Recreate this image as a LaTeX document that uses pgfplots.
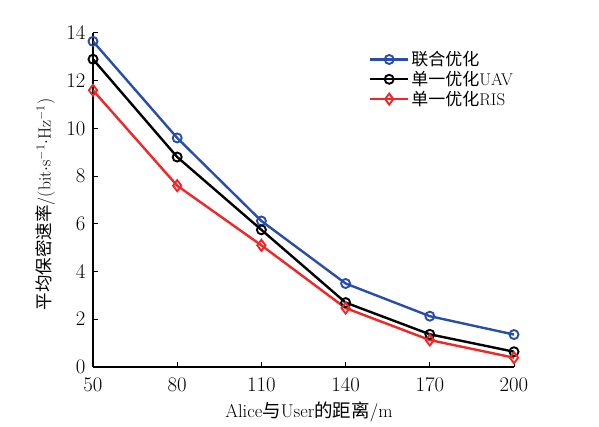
\documentclass[border=0pt]{standalone}
\usepackage{fontspec}
\usepackage{pgfplots}
\pgfplotsset{compat=1.18}
\newfontfamily\cjk{Noto Sans CJK SC}
\definecolor{cblue}{RGB}{40,78,168}
\definecolor{cred}{RGB}{236,40,40}
\begin{document}
\begin{tikzpicture}
\path[use as bounding box] (0,0) rectangle (599pt,427pt);
\begin{axis}[
  at={(93pt,60pt)}, anchor=south west,
  scale only axis, width=421pt, height=334pt,
  xmin=50, xmax=200, ymin=0, ymax=14,
  xtick={50,80,110,140,170,200},
  ytick={0,2,4,6,8,10,12,14},
  axis x line=bottom, axis y line=left,
  axis line style={-, line width=1.3pt, black},
  tick align=inside, major tick length=5pt,
  tick style={line width=1pt, black},
  ticklabel style={font=\fontsize{20}{20}\selectfont},
  xticklabel style={yshift=-8pt},
  yticklabel style={xshift=-4pt},
  xlabel={\fontsize{18.5}{18.5}\selectfont Alice{\cjk 与}User{\cjk 的距离}/m},
  ylabel={\fontsize{17.5}{17.5}\selectfont {\cjk 平均保密速率}/(bit$\cdot$s$^{-1}$$\cdot$Hz$^{-1}$)},
  xlabel style={at={(axis description cs:0.513,-0.135)}, anchor=center},
  ylabel style={at={(axis description cs:-0.113,0.487)}, anchor=center},
  legend style={draw=none, fill=none, at={(0.648,0.957)}, anchor=north west,
    font=\fontsize{17}{19}\selectfont, row sep=0pt, cells={anchor=west}},
  legend image code/.code={\draw[mark repeat=2,mark phase=2] plot coordinates {(0pt,0pt) (19pt,0pt) (38pt,0pt)};},
]
\addplot[cblue, line width=2.4pt, mark=o, mark size=4.5pt, mark options={line width=1.9pt}]
 coordinates {(50,13.65) (80,9.6) (110,6.12) (140,3.5) (170,2.13) (200,1.36)};
\addlegendentry{\cjk 联合优化}
\addplot[black, line width=2.4pt, mark=o, mark size=4.5pt, mark options={line width=1.9pt}]
 coordinates {(50,12.9) (80,8.8) (110,5.75) (140,2.7) (170,1.37) (200,0.64)};
\addlegendentry{{\cjk 单一优化}UAV}
\addplot[cred, line width=2.4pt, mark=diamond, mark size=5.5pt, mark options={line width=1.9pt}]
 coordinates {(50,11.6) (80,7.6) (110,5.1) (140,2.47) (170,1.13) (200,0.39)};
\addlegendentry{{\cjk 单一优化}RIS}
\end{axis}
\end{tikzpicture}
\end{document}
